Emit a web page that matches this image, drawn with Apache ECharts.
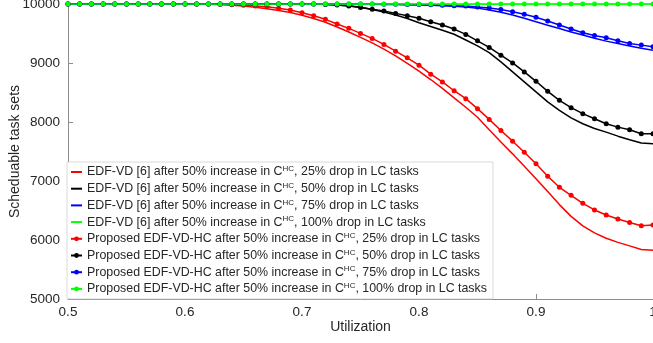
<!DOCTYPE html>
<html>
<head>
<meta charset="utf-8">
<script src="https://cdn.jsdelivr.net/npm/echarts@6/dist/echarts.min.js"></script>
<style>
  html, body { margin: 0; padding: 0; background: #fff; }
  #chart { width: 653px; height: 343px; }
</style>
</head>
<body>
<div id="chart"></div>
<script>
// utilization points (x)
const util = [
  0.50, 0.51, 0.52, 0.53, 0.54, 0.55, 0.56, 0.57, 0.58, 0.59,
  0.60, 0.61, 0.62, 0.63, 0.64, 0.65, 0.66, 0.67, 0.68, 0.69,
  0.70, 0.71, 0.72, 0.73, 0.74, 0.75, 0.76, 0.77, 0.78, 0.79,
  0.80, 0.81, 0.82, 0.83, 0.84, 0.85, 0.86, 0.87, 0.88, 0.89,
  0.90, 0.91, 0.92, 0.93, 0.94, 0.95, 0.96, 0.97, 0.98, 0.99, 1.00
]
const xTicks = ['0.5', '0.6', '0.7', '0.8', '0.9', '1']
const yTicks = [5000, 6000, 7000, 8000, 9000, 10000]

// EDF-VD [6] (plain lines)
const edfRed = [
  10000, 10000, 10000, 10000, 10000, 10000, 10000, 10000, 10000, 10000,
  10000, 10000, 9997, 9990, 9980, 9965, 9945, 9920, 9890, 9855,
  9810, 9755, 9690, 9610, 9525, 9435, 9340, 9235, 9120, 8995,
  8861, 8720, 8570, 8410, 8250, 8080, 7870, 7660, 7460, 7250,
  7040, 6820, 6600, 6400, 6240, 6120, 6030, 5960, 5900, 5840, 5828
]
const edfBlack = [
  10000, 10000, 10000, 10000, 10000, 10000, 10000, 10000, 10000, 10000,
  10000, 10000, 10000, 10000, 10000, 10000, 10000, 10000, 10000, 10000,
  10000, 10000, 9995, 9985, 9970, 9945, 9905, 9865, 9815, 9755,
  9682, 9620, 9555, 9488, 9390, 9290, 9175, 9020, 8850, 8680,
  8510, 8340, 8197, 8070, 7970, 7890, 7828, 7760, 7700, 7645, 7630
]
const edfBlue = [
  10000, 10000, 10000, 10000, 10000, 10000, 10000, 10000, 10000, 10000,
  10000, 10000, 10000, 10000, 10000, 10000, 10000, 10000, 10000, 10000,
  10000, 10000, 10000, 10000, 9998, 9996, 9994, 9992, 9990, 9988,
  9985, 9980, 9972, 9962, 9948, 9930, 9900, 9860, 9813, 9760,
  9699, 9640, 9586, 9525, 9473, 9420, 9371, 9330, 9290, 9250, 9218
]
const edfGreen = [
  10000, 10000, 10000, 10000, 10000, 10000, 10000, 10000, 10000, 10000,
  10000, 10000, 10000, 10000, 10000, 10000, 10000, 10000, 10000, 10000,
  10000, 10000, 10000, 10000, 10000, 10000, 10000, 10000, 10000, 10000,
  10000, 10000, 10000, 10000, 10000, 10000, 10000, 10000, 10000, 10000,
  10000, 10000, 10000, 10000, 10000, 10000, 10000, 10000, 10000, 10000, 10000
]

// Proposed EDF-VD-HC (lines with markers)
const hcRed = [
  10000, 10000, 10000, 10000, 10000, 10000, 10000, 10000, 10000, 10000,
  10000, 10000, 9998, 9995, 9988, 9978, 9967, 9954, 9926, 9898,
  9852, 9801, 9740, 9660, 9587, 9502, 9417, 9315, 9201, 9087,
  8963, 8810, 8679, 8530, 8396, 8226, 8044, 7857, 7675, 7488,
  7291, 7080, 6893, 6757, 6621, 6509, 6424, 6355, 6298, 6241, 6253
]
const hcBlack = [
  10000, 10000, 10000, 10000, 10000, 10000, 10000, 10000, 10000, 10000,
  10000, 10000, 10000, 10000, 10000, 10000, 10000, 10000, 10000, 10000,
  10000, 9998, 9993, 9985, 9965, 9940, 9910, 9881, 9841, 9801,
  9757, 9699, 9643, 9575, 9485, 9376, 9264, 9133, 9002, 8849,
  8690, 8520, 8367, 8243, 8141, 8056, 7971, 7913, 7869, 7801, 7801
]
const hcBlue = [
  10000, 10000, 10000, 10000, 10000, 10000, 10000, 10000, 10000, 10000,
  10000, 10000, 10000, 10000, 10000, 10000, 10000, 10000, 10000, 10000,
  10000, 10000, 10000, 10000, 10000, 10000, 9998, 9997, 9995, 9993,
  9990, 9986, 9980, 9972, 9965, 9950, 9932, 9905, 9869, 9825,
  9774, 9711, 9643, 9575, 9512, 9467, 9427, 9376, 9332, 9303, 9274
]
const hcGreen = [
  10000, 10000, 10000, 10000, 10000, 10000, 10000, 10000, 10000, 10000,
  10000, 10000, 10000, 10000, 10000, 10000, 10000, 10000, 10000, 10000,
  10000, 10000, 10000, 10000, 10000, 10000, 10000, 10000, 10000, 10000,
  10000, 10000, 10000, 10000, 10000, 10000, 10000, 10000, 10000, 10000,
  10000, 10000, 10000, 10000, 10000, 10000, 10000, 10000, 10000, 10000, 10000
]

const drops = ['25%', '50%', '75%', '100%']
const colors = ['#ff0000', '#000000', '#0000ff', '#00ff00']
const edfData = [edfRed, edfBlack, edfBlue, edfGreen]
const hcData = [hcRed, hcBlack, hcBlue, hcGreen]

const FONT = '"Liberation Sans", Arial, Helvetica, sans-serif'
const TEXT = '#262626'
const AXIS = '#8c8c8c'

const pairs = ys => util.map((u, i) => [u, ys[i]])

const series = []
const legendData = []
edfData.forEach((d, i) => {
  const name = 'EDF-VD [6] after 50% increase in C^HC, ' + drops[i] + ' drop in LC tasks'
  series.push({
    name: name,
    type: 'line',
    data: pairs(d),
    showSymbol: false,
    symbol: 'none',
    lineStyle: { color: colors[i], width: 1.5 },
    itemStyle: { color: colors[i] }
  })
  // plain line in the legend, no marker
  legendData.push({ name: name, itemStyle: { opacity: 0 } })
})
hcData.forEach((d, i) => {
  const name = 'Proposed EDF-VD-HC after 50% increase in C^HC, ' + drops[i] + ' drop in LC tasks'
  series.push({
    name: name,
    type: 'line',
    data: pairs(d),
    symbol: 'circle',
    symbolSize: 5,
    lineStyle: { color: colors[i], width: 1.5 },
    itemStyle: { color: colors[i] }
  })
  legendData.push({ name: name })
})

const chart = echarts.init(document.getElementById('chart'), null, { renderer: 'canvas' })
chart.setOption({
  animation: false,
  backgroundColor: '#fff',
  textStyle: { fontFamily: FONT },
  grid: { left: 68, right: 0, top: 4, bottom: 44, containLabel: false, outerBoundsMode: 'none' },
  legend: {
    data: legendData,
    orient: 'vertical',
    left: 67,
    top: 162,
    padding: [3, 6, 3, 3],
    itemGap: 2.7,
    itemWidth: 11,
    itemHeight: 6,
    backgroundColor: '#fff',
    borderColor: '#d0d0d0',
    borderWidth: 0.8,
    formatter: name => name.replace('C^HC', 'C{sup|HC}'),
    textStyle: {
      fontFamily: FONT,
      fontSize: 12.4,
      color: TEXT,
      lineHeight: 14,
      rich: {
        sup: { fontSize: 8, fontFamily: FONT, color: TEXT, verticalAlign: 'top', lineHeight: 14, padding: [0, 0, 5, 0] }
      }
    }
  },
  xAxis: {
    type: 'value',
    min: 0.5,
    max: 1,
    interval: 0.1,
    name: 'Utilization',
    nameLocation: 'middle',
    nameGap: 21,
    nameMoveOverlap: false,
    nameTextStyle: { fontFamily: FONT, fontSize: 14, color: TEXT },
    axisLine: { lineStyle: { color: AXIS, width: 1 } },
    axisTick: { inside: true, length: 5, lineStyle: { color: AXIS } },
    axisLabel: {
      fontFamily: FONT, fontSize: 13.5, color: TEXT, margin: 6,
      hideOverlap: false,
      formatter: v => xTicks[Math.round((v - 0.5) * 10)]
    },
    splitLine: { show: false }
  },
  yAxis: {
    type: 'value',
    min: yTicks[0],
    max: yTicks[yTicks.length - 1],
    interval: 1000,
    name: 'Scheduable task sets',
    nameLocation: 'middle',
    nameGap: 46,
    nameMoveOverlap: false,
    nameTextStyle: { fontFamily: FONT, fontSize: 14, color: TEXT },
    axisLine: { show: true, lineStyle: { color: AXIS, width: 1 } },
    axisTick: { show: true, inside: true, length: 5, lineStyle: { color: AXIS } },
    axisLabel: {
      fontFamily: FONT, fontSize: 13.5, color: TEXT, margin: 8,
      hideOverlap: false,
      formatter: v => String(v)
    },
    splitLine: { show: false }
  },
  series: series
})
</script>
</body>
</html>
